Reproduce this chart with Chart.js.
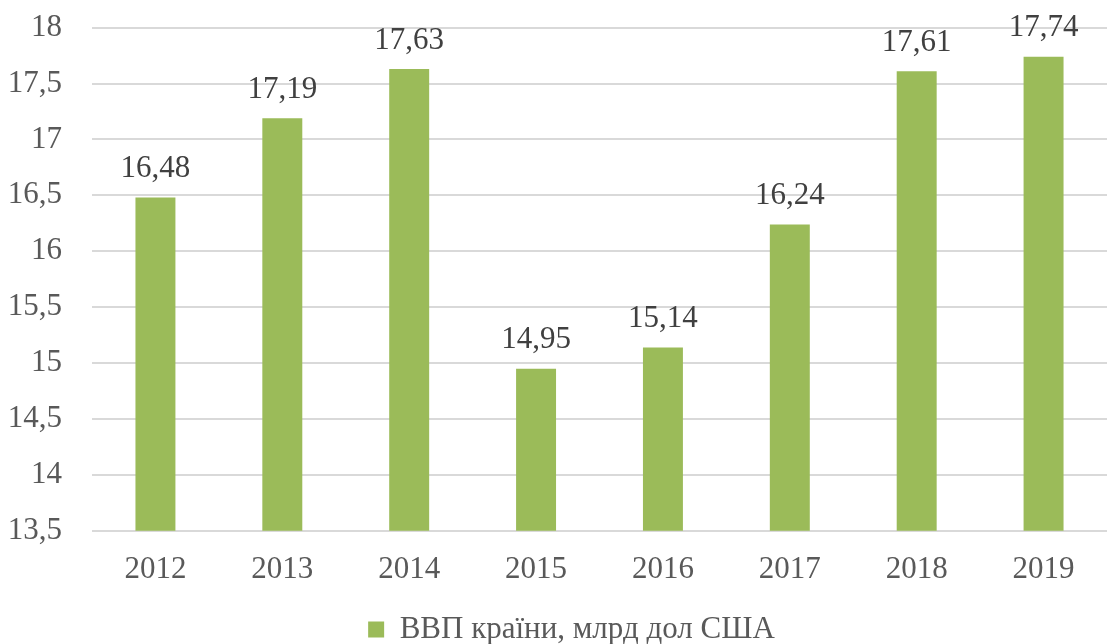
<!DOCTYPE html>
<html>
<head>
<meta charset="utf-8">
<script src="https://cdn.jsdelivr.net/npm/chart.js@4/dist/chart.umd.min.js"></script>
<style>
    html, body { margin: 0; padding: 0; background: #fff; overflow: hidden; }
    #wrap { width: 1107px; height: 644px; overflow: hidden; position: relative; }
    #chart { position: absolute; left: 0; top: -21px; }
</style>
</head>
<body>
<div id="wrap"><canvas id="chart" width="1107" height="676"></canvas></div>
<script>
const years = ['2012', '2013', '2014', '2015', '2016', '2017', '2018', '2019'];
const gdp = [16.48, 17.19, 17.63, 14.95, 15.14, 16.24, 17.61, 17.74];
const seriesName = 'ВВП країни, млрд дол США';

const textColor = '#595959';
const fontFamily = '"Liberation Serif", "Times New Roman", serif';
const fontSize = 31;

const fmt = v => String(v).replace('.', ',');

// value labels above each bar
const barLabels = {
    id: 'barLabels',
    afterDatasetsDraw(chart) {
        const ctx = chart.ctx;
        ctx.save();
        ctx.font = fontSize + 'px ' + fontFamily;
        ctx.fillStyle = '#404040';
        ctx.textAlign = 'center';
        ctx.textBaseline = 'bottom';
        chart.getDatasetMeta(0).data.forEach((bar, i) => {
            ctx.fillText(gdp[i].toFixed(2).replace('.', ','), bar.x, bar.y - 13);
        });
        ctx.restore();
    }
};

// legend sits a bit right of centre in the original
const legendShift = {
    id: 'legendShift',
    afterLayout(chart) {
        chart.legend.left += 18;
        chart.legend.right += 18;
    }
};

let chart = new Chart(document.getElementById('chart'), {
    type: 'bar',
    data: {
        labels: years,
        datasets: [{
            label: seriesName,
            data: gdp,
            backgroundColor: '#9BBB59',
            categoryPercentage: 1,
            barPercentage: 0.315,
        }],
    },
    options: {
        responsive: false,
        animation: false,
        layout: { padding: 0 },
        plugins: {
            legend: {
                position: 'bottom',
                labels: {
                    color: textColor,
                    font: { family: fontFamily, size: fontSize },
                    boxWidth: 16,
                    boxHeight: 16,
                    padding: 14,
                },
            },
            tooltip: { enabled: false },
        },
        scales: {
            y: {
                min: 13.5,
                max: 18,
                ticks: {
                    stepSize: 0.5,
                    color: textColor,
                    font: { family: fontFamily, size: fontSize },
                    padding: 30,
                    callback: v => fmt(v),
                },
                grid: { color: '#d9d9d9', lineWidth: 2, drawTicks: false },
                border: { display: false },
                afterFit: axis => { axis.width = 92; },
            },
            x: {
                ticks: {
                    color: textColor,
                    font: { family: fontFamily, size: fontSize },
                    padding: 12,
                },
                grid: { display: false },
                border: { display: false },
            },
        },
    },
    plugins: [barLabels, legendShift],
});
</script>
</body>
</html>
